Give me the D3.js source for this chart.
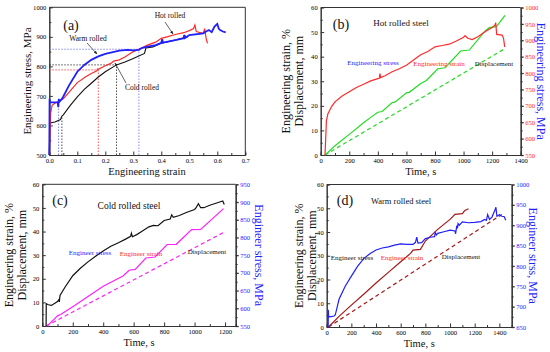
<!DOCTYPE html>
<meta charset="utf-8">
<style>
  body { margin: 0; background: #fff; }
  svg, svg text { font-family: "Liberation Serif", "DejaVu Serif", serif; }
  .tick text { font-size: 6.6px; font-family: "Liberation Serif", serif; }
  .domain { stroke: #333; }
  .tick line { stroke: #333; }
</style>
<body>
<script src="https://d3js.org/d3.v7.min.js"></script>
<script>
// ---------- panel (a): stress vs strain ----------
var hotRolled = [[0,500],[0.003,600],[0.005,645],[0.01,668],[0.02,675],[0.03,680],[0.05,690],[0.07,712],[0.1,745],[0.13,765],[0.15,776],[0.17,785],[0.172,791],[0.175,790],[0.2,802],[0.22,810],[0.23,818],[0.25,822],[0.27,832],[0.3,850],[0.33,862],[0.35,872],[0.38,882],[0.4,895],[0.42,900],[0.45,908],[0.48,914],[0.5,921],[0.515,928],[0.52,940],[0.525,918],[0.54,914],[0.55,912],[0.555,928],[0.56,895],[0.565,878]];
var warmRolled = [[0,500],[0.001,690],[0.003,678],[0.02,678],[0.03,679],[0.032,662],[0.034,690],[0.036,680],[0.045,690],[0.05,698],[0.07,735],[0.1,782],[0.125,805],[0.15,822],[0.175,834],[0.2,842],[0.25,853],[0.28,856],[0.3,854],[0.32,856],[0.33,862],[0.35,867],[0.38,872],[0.4,880],[0.403,892],[0.406,880],[0.45,889],[0.48,895],[0.482,906],[0.485,896],[0.5,906],[0.55,912],[0.56,918],[0.57,923],[0.58,916],[0.59,935],[0.6,944],[0.605,928],[0.61,923],[0.62,918],[0.63,915]];
var coldRolled = [[0,500],[0.002,608],[0.01,610],[0.02,612],[0.04,620],[0.045,632],[0.05,636],[0.075,668],[0.1,697],[0.125,722],[0.15,743],[0.175,764],[0.2,782],[0.24,805],[0.27,815],[0.3,827],[0.34,844],[0.345,862],[0.37,866],[0.4,878],[0.45,889],[0.48,897],[0.482,905],[0.49,900],[0.495,900]];
// dotted guide points [strain, stress]
var hotGuide = [0.175, 788];
var coldGuide = [0.24, 805];
var warmGuide = [0.32, 858];
var warmYieldGuide = [0.033, 680];
var coldYieldGuide = [0.045, 632];
var strainTicks = [0, 0.1, 0.2, 0.3, 0.4, 0.5, 0.6, 0.7];
var stressTicksA = [500, 600, 700, 800, 900, 1000];

// ---------- panel (b): hot rolled, vs time ----------
var bStress = [[30,550],[35,600],[40,655],[50,675],[75,697],[100,712],[150,730],[200,743],[250,756],[300,766],[350,776],[400,783],[410,784],[415,798],[420,786],[450,792],[500,804],[550,813],[600,824],[650,840],[700,856],[750,866],[800,880],[850,884],[900,888],[950,898],[1000,909],[1010,914],[1030,906],[1060,902],[1100,911],[1150,926],[1200,939],[1220,946],[1225,954],[1232,918],[1270,916],[1280,906],[1288,880]];
var bStrain = [[30,0],[50,1],[100,3.8],[200,8.4],[300,13.1],[350,15.3],[400,17.4],[430,17.7],[500,21.3],[520,21.5],[600,25.3],[620,25.5],[700,29.1],[740,30.3],[820,35.1],[870,35.5],[980,42.3],[1040,42.7],[1150,50.4],[1180,51.8],[1230,52.2],[1290,56.8]];
var bDisp = [[30,0],[1290,43.3]];

// ---------- panel (c): cold rolled ----------
var cStress = [[25,550],[26,613],[40,610],[60,608],[100,619],[108,624],[112,618],[116,636],[150,660],[200,692],[250,713],[300,731],[350,747],[400,762],[450,775],[500,785],[550,796],[580,803],[585,812],[592,802],[620,808],[650,816],[700,830],[730,834],[760,833],[800,848],[840,852],[850,864],[860,857],[900,862],[950,871],[1000,879],[1010,884],[1025,895],[1040,884],[1060,884],[1100,891],[1150,898],[1185,903],[1195,893]];
var cStrain = [[25,0],[40,0.5],[100,4.3],[120,4.9],[200,8.2],[300,12.5],[400,16.8],[530,21.2],[570,23.6],[610,24],[680,28.8],[740,29.2],[820,34.5],[880,34.6],[980,40.8],[1040,40.9],[1190,49.7]];
var cDisp = [[25,0],[1190,39.6]];

// ---------- panel (d): warm rolled ----------
var dStress = [[12,650],[13,692],[16,676],[25,675],[60,677],[70,680],[100,718],[150,750],[200,775],[250,799],[300,818],[350,830],[400,839],[450,844],[500,847],[550,851],[600,854],[650,853],[700,853],[720,858],[730,871],[740,856],[770,857],[800,867],[850,871],[875,872],[880,882],[890,876],[900,880],[950,884],[1000,888],[1040,886],[1045,879],[1055,899],[1060,892],[1065,904],[1075,900],[1100,908],[1150,906],[1200,907],[1250,909],[1280,914],[1295,912],[1305,926],[1320,914],[1340,920],[1365,938],[1372,944],[1380,922],[1400,926],[1420,922],[1440,921],[1452,912]];
var dStrain = [[15,0],[100,4.5],[200,9.2],[300,13.8],[400,18.5],[500,23],[600,27.5],[680,31],[700,32.4],[760,32.7],[800,36.2],[900,41.1],[1000,45.3],[1040,47.4],[1100,47.7],[1120,49.1],[1150,49.8]];
var dDisp = [[15,0],[1420,47.4]];

var timeTicks = [0, 200, 400, 600, 800, 1000, 1200, 1400];
var timeTicksC = [0, 200, 400, 600, 800, 1000, 1200];
var strainTicksL = [0, 10, 20, 30, 40, 50, 60];
var stressTicksB = [550, 600, 650, 700, 750, 800, 850, 900, 950, 1000];
var stressTicksC = [550, 600, 650, 700, 750, 800, 850, 900, 950];
var stressTicksD = [650, 700, 750, 800, 850, 900, 950, 1000];

var RED = "#ff2a2a", BLUE = "#1f1fff", GREEN = "#22dd22", MAGENTA = "#ff22ff", DARKRED = "#a81818";

var svg = d3.select("body").append("svg")
  .attr("width", 550)
  .attr("height", 352);

svg.append("defs").append("marker")
  .attr("id", "arr")
  .attr("viewBox", "0 0 10 10")
  .attr("refX", 9).attr("refY", 5)
  .attr("markerWidth", 5).attr("markerHeight", 5)
  .attr("orient", "auto")
  .append("path").attr("d", "M0,1L10,5L0,9z").attr("fill", "#222");

function midTicks(t) {
  var out = [];
  for (var i = 0; i < t.length - 1; i++) out.push((t[i] + t[i + 1]) / 2);
  return out;
}

// draws frame + axes for a panel
function frame(x, y, xt, yt, fmtX, fmtY) {
  var x0 = x.range()[0], x1 = x.range()[1], y0 = y.range()[0], y1 = y.range()[1];
  svg.append("g").attr("transform", "translate(0," + y0 + ")")
    .call(d3.axisBottom(x).tickValues(midTicks(xt)).tickSize(-2).tickFormat(""));
  svg.append("g").attr("transform", "translate(0," + y0 + ")")
    .call(d3.axisBottom(x).tickValues(xt).tickSizeInner(-3.5).tickSizeOuter(0).tickPadding(3).tickFormat(fmtX));
  svg.append("g").attr("transform", "translate(" + x0 + ",0)")
    .call(d3.axisLeft(y).tickValues(midTicks(yt)).tickSize(-2).tickFormat(""));
  svg.append("g").attr("transform", "translate(" + x0 + ",0)")
    .call(d3.axisLeft(y).tickValues(yt).tickSizeInner(-3.5).tickSizeOuter(0).tickPadding(3).tickFormat(fmtY));
  svg.append("line").attr("x1", x0).attr("x2", x1).attr("y1", y1).attr("y2", y1)
    .attr("stroke", "#333");
}

function curve(x, y, data, color, width, dash) {
  var line = d3.line().x(function (d) { return x(d[0]); }).y(function (d) { return y(d[1]); });
  svg.append("path").datum(data)
    .attr("d", line)
    .attr("fill", "none")
    .attr("stroke", color)
    .attr("stroke-width", width)
    .attr("stroke-dasharray", dash || null);
}

function label(x, y, txt, size, color, rot, anchor) {
  var t = svg.append("text")
    .attr("x", x).attr("y", y)
    .attr("font-size", size)
    .attr("fill", color || "#111")
    .attr("text-anchor", anchor || "middle")
    .text(txt);
  if (rot) t.attr("transform", "rotate(" + rot + "," + x + "," + y + ")");
  return t;
}

// ===== (a) =====
var xa = d3.scaleLinear().domain([0, 0.7]).range([49.3, 245.3]);
var ya = d3.scaleLinear().domain([500, 1000]).range([155, 7.3]);
frame(xa, ya, strainTicks, stressTicksA, d3.format(".1f"), d3.format("d"));
svg.append("line").attr("x1", xa(0.7)).attr("x2", xa(0.7)).attr("y1", ya(500)).attr("y2", ya(1000)).attr("stroke", "#333");

function guide(g, color, horiz) {
  svg.append("line").attr("x1", xa(g[0])).attr("x2", xa(g[0])).attr("y1", ya(500)).attr("y2", ya(g[1]))
    .attr("stroke", color).attr("stroke-width", 0.8).attr("stroke-dasharray", "1.5,1.5");
  if (horiz) svg.append("line").attr("x1", xa(0)).attr("x2", xa(g[0])).attr("y1", ya(g[1])).attr("y2", ya(g[1]))
    .attr("stroke", color).attr("stroke-width", 0.8).attr("stroke-dasharray", "1.5,1.5");
}
guide(hotGuide, RED, true);
guide(coldGuide, "#222", true);
guide(warmGuide, "#6a6aff", true);
guide(warmYieldGuide, "#6a6aff", false);
guide(coldYieldGuide, "#222", false);

curve(xa, ya, coldRolled, "#111", 1.1);
curve(xa, ya, hotRolled, RED, 1.2);
curve(xa, ya, warmRolled, BLUE, 1.8);

label(71, 30, "(a)", 14);
label(88, 41, "Warm rolled", 7.5);
label(142, 90, "Cold rolled", 7.5);
label(170, 18, "Hot rolled", 7.5);
svg.append("line").attr("x1", 87).attr("y1", 43).attr("x2", 97).attr("y2", 54).attr("stroke", "#222").attr("stroke-width", 0.7).attr("marker-end", "url(#arr)");
svg.append("line").attr("x1", 126).attr("y1", 83).attr("x2", 115).attr("y2", 63).attr("stroke", "#222").attr("stroke-width", 0.7).attr("marker-end", "url(#arr)");
svg.append("line").attr("x1", 165).attr("y1", 22).attr("x2", 173).attr("y2", 34).attr("stroke", "#222").attr("stroke-width", 0.7).attr("marker-end", "url(#arr)");
label(147, 175, "Engineering strain", 10.5);
label(31, 81, "Engineering stress, MPa", 11, "#111", -90);

// ===== time panels =====
function timePanel(p) {
  var x = d3.scaleLinear().domain(p.xDomain).range(p.xRange);
  var yl = d3.scaleLinear().domain([0, 60]).range(p.yRange);
  var yr = d3.scaleLinear().domain(p.rDomain).range(p.yRange);
  frame(x, yl, p.xTicks, strainTicksL, d3.format("d"), d3.format("d"));
  var gr = svg.append("g").attr("transform", "translate(" + p.xRange[1] + ",0)")
    .call(d3.axisRight(yr).tickValues(midTicks(p.rTicks)).tickSize(2).tickFormat(""));
  gr.selectAll("line,path").attr("stroke", p.rColor);
  var g2 = svg.append("g").attr("transform", "translate(" + p.xRange[1] + ",0)")
    .call(d3.axisRight(yr).tickValues(p.rTicks).tickSizeInner(3).tickSizeOuter(0).tickPadding(1.5).tickFormat(d3.format("d")));
  g2.selectAll("line,path").attr("stroke", p.rColor).attr("stroke-width", 1.3);
  g2.selectAll("text").attr("fill", p.rColor);

  curve(x, yl, p.disp, p.strainColor, 1.2, "4,3");
  curve(x, yl, p.strain, p.strainColor, 1.2);
  curve(x, yr, p.stress, p.stressColor, 1.2);

  var cx = (p.xRange[0] + p.xRange[1]) / 2;
  label(cx, p.yRange[0] + 19.5, "Time, s", 10.5);
  label(p.lTitleX, (p.yRange[0] + p.yRange[1]) / 2, "Engineering strain, %", 12, "#111", -90);
  label(p.lTitleX + 13, (p.yRange[0] + p.yRange[1]) / 2, "Displacement, mm", 12, "#111", -90);
  label(p.rTitleX, (p.yRange[0] + p.yRange[1]) / 2, p.rTitle, 12, BLUE, 90);
}

timePanel({
  xDomain: [0, 1400], xRange: [320.7, 520.7], yRange: [155, 7.5],
  rDomain: [550, 1000], rTicks: stressTicksB, rColor: RED, xTicks: timeTicks,
  stress: bStress, strain: bStrain, disp: bDisp,
  stressColor: RED, strainColor: GREEN,
  lTitleX: 290, rTitleX: 537, rTitle: "Engineering stress, MPa"
});
label(341, 29, "(b)", 14);
label(401, 26, "Hot rolled steel", 9);
label(373, 65, "Engineering stress", 7, BLUE);
label(439, 66, "Engineering strain", 7, RED);
label(494, 66, "Displacement", 7, "#111");

timePanel({
  xDomain: [0, 1270], xRange: [42.3, 235.7], yRange: [326, 184.3],
  rDomain: [550, 950], rTicks: stressTicksC, rColor: BLUE, xTicks: timeTicksC,
  stress: cStress, strain: cStrain, disp: cDisp,
  stressColor: "#111", strainColor: MAGENTA,
  lTitleX: 13, rTitleX: 255, rTitle: "Engineer stress, MPa"
});
label(60, 205, "(c)", 14);
label(129, 209, "Cold rolled steel", 9.5);
label(90, 255, "Engineer stress", 7, BLUE);
label(141, 256, "Engineer strain", 7, RED);
label(207, 254, "Displacement", 7, "#111");

timePanel({
  xDomain: [0, 1500], xRange: [326.7, 511.7], yRange: [327, 184.5],
  rDomain: [650, 1000], rTicks: stressTicksD, rColor: BLUE, xTicks: timeTicks,
  stress: dStress, strain: dStrain, disp: dDisp,
  stressColor: BLUE, strainColor: DARKRED,
  lTitleX: 303, rTitleX: 529, rTitle: "Engineer strss, MPa"
});
label(345, 205, "(d)", 14);
label(401, 204, "Warm rolled steel", 8.5);
label(352, 260, "Engineer stress", 7, "#111");
label(402, 260, "Engineer strain", 7, RED);
label(461, 259, "Displacement", 7, "#111");
</script>
</body>
